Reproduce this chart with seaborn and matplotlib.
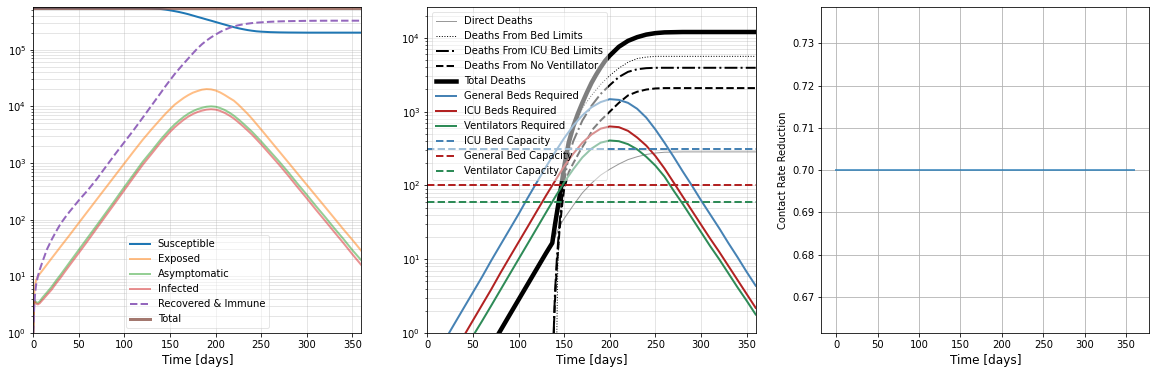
import numpy as np
import matplotlib
matplotlib.use("Agg")
import matplotlib.pyplot as plt
import seaborn as sns

# ---------------- Panel 1: compartments ----------------
t1 = [0, 1, 2, 3, 5, 7, 10, 15, 20, 25, 30, 35, 40, 50, 60, 70, 80, 90, 100, 110, 120, 130,
      140, 145, 150, 155, 160, 165, 170, 175, 180, 185, 190, 195, 200, 205, 210, 215, 220,
      225, 230, 235, 240, 245, 250, 260, 270, 280, 290, 300, 310, 320, 330, 340, 350, 360]
susceptible = [540000, 540000, 540000, 540000, 540000, 540000, 540000, 540000, 540000, 540000,
               540000, 540000, 540000, 540000, 540000, 540000, 540000, 540000, 540000, 539500,
               538000, 533000,
               522000, 510000, 495000, 479000, 462000, 443000, 423000, 401000, 380000, 361000,
               342000, 325000, 308000, 292000, 277000, 263000, 250000, 239000, 230000, 222000,
               216000, 211000, 208000, 204000, 202000, 201000, 200500, 200000, 200000, 200000,
               200000, 200000, 200000, 200000]
exposed = [1.0, 5.0, 7.0, 8.5, 10.0, 11.0, 12.7, 16.2, 20.7, 26.3, 33.5, 42.5, 54, 88, 143, 232,
           376, 610, 990, 1600, 2570, 3980,
           6030, 7400, 8900, 10700, 12300, 14100, 15800, 17400, 18600, 19700, 20200, 19950,
           19050, 17600, 15850, 14100, 12600, 10700, 8900, 7400, 6030, 4840, 3890,
           2480, 1585, 1012, 646, 412, 263, 168, 107, 68, 44, 28]
asymptomatic = [1.0, 3.8, 3.7, 3.5, 3.4, 3.6, 4.2, 5.2, 6.5, 8.4, 10.7, 13.8, 17.8, 29.5, 49, 81,
                135, 225, 380, 630, 1050, 1650,
                2630, 3240, 3980, 4790, 5620, 6530, 7410, 8220, 8910, 9440, 9840, 10000, 9840,
                9330, 8610, 7760, 6840, 5890, 5010, 4220, 3550, 2920, 2400,
                1585, 1047, 676, 427, 275, 174, 112, 71, 46, 29, 19]
infected = [1.0, 3.6, 3.5, 3.3, 3.2, 3.35, 3.8, 4.7, 5.8, 7.5, 9.5, 12.3, 15.8, 26, 43, 72, 120,
            200, 335, 560, 930, 1470,
            2340, 2880, 3540, 4260, 5000, 5810, 6600, 7320, 7930, 8400, 8760, 8900, 8760, 8300,
            7660, 6900, 6090, 5240, 4460, 3760, 3160, 2600, 2130,
            1400, 920, 590, 372, 238, 150, 96, 61, 39, 24.5, 15.7]
recovered = [1.0, 3.0, 5.0, 7.0, 10.0, 13, 18, 30, 44, 62, 85, 110, 140, 220, 335, 530, 880,
             1450, 2350, 3800, 6300, 10500,
             17500, 22700, 29000, 37000, 46000, 57000, 70000, 86000, 105000, 125000, 145000,
             165000, 185000, 206000, 225000, 242000, 258000, 270000, 280000, 288000, 295000,
             300000, 304000, 311000, 316000, 319000, 321000, 323000, 324000, 324500, 325000,
             325000, 325000, 325000]
t_total = [0, 180, 360]
total = [540000, 540000, 540000]

# ---------------- Panel 2: deaths and hospital load ----------------
t_gen = [20, 30, 40, 50, 60, 70, 80, 90, 100, 110, 120, 130, 140, 150, 160, 170, 180, 190,
         200, 210, 220, 230, 240, 250, 260, 270, 280, 290, 300, 310, 320, 330, 340, 350, 360]
general_beds = [0.83, 1.35, 2.19, 3.55, 5.75, 9.55, 15.5, 25.1, 40.7, 67.6, 110, 178, 282, 437,
                646, 891, 1148, 1349, 1479, 1445, 1318, 1096, 832, 575, 380, 245, 155, 100,
                63.1, 40.7, 26.3, 16.6, 10.7, 6.76, 4.37]
t_icu = [40, 50, 60, 70, 80, 90, 100, 110, 120, 130, 140, 150, 160, 170, 180, 190, 200, 210,
         220, 230, 240, 250, 260, 270, 280, 290, 300, 310, 320, 330, 340, 350, 360]
icu_beds = [0.91, 1.48, 2.40, 3.89, 6.46, 10.5, 17.0, 27.5, 44.7, 72.4, 115, 182, 269, 380, 490,
            589, 631, 617, 550, 447, 347, 251, 170, 110, 70.8, 45.7, 29.5, 19.1, 12.6, 8.13,
            5.25, 3.39, 2.19]
t_vent = [50, 60, 70, 80, 90, 100, 110, 120, 130, 140, 150, 160, 170, 180, 190, 200, 210, 220,
          230, 240, 250, 260, 270, 280, 290, 300, 310, 320, 330, 340, 350, 360]
ventilators = [0.91, 1.45, 2.34, 3.80, 6.17, 10.0, 16.2, 26.3, 42.7, 69.2, 110, 166, 240, 316,
               380, 407, 398, 363, 309, 245, 186, 132, 85.1, 56.2, 36.3, 23.4, 15.1, 10.0, 6.46,
               4.17, 2.75, 1.78]

t_dead = [70, 80, 90, 100, 110, 120, 130, 137, 140, 145, 148, 150, 155, 160, 165, 170, 175,
          180, 185, 190, 195, 200, 210, 220, 230, 240, 250, 260, 280, 300, 330, 360]
total_deaths = [0.66, 1.07, 1.74, 2.82, 4.57, 7.41, 12.0, 16.6, 29.5, 70.8, 120, 178, 380, 631,
                933, 1318, 1820, 2455, 3162, 3981, 4898, 5754, 7586, 9120, 10230, 11090, 11610,
                11885, 12020, 12020, 12020, 12020]
t_direct = [70, 80, 90, 100, 110, 120, 130, 137, 140, 145, 150, 160, 170, 180, 190, 200, 210,
            220, 230, 240, 250, 260, 280, 360]
direct_deaths = [0.66, 1.07, 1.74, 2.82, 4.57, 7.41, 12.0, 16.6, 20.0, 28.2, 35.5, 53.7, 79.4,
                 107, 138, 166, 195, 224, 245, 263, 275, 282, 285, 285]
t_bed = [141, 142, 143, 145, 148, 150, 155, 160, 170, 180, 190, 200, 210, 220, 230, 240, 250,
         260, 360]
bed_deaths = [0.32, 1.0, 7.9, 28.2, 79.4, 126, 316, 562, 1122, 1660, 2344, 3090, 3890, 4677,
              5248, 5495, 5623, 5623, 5623]
t_icud = [138, 139, 140, 142, 145, 148, 150, 155, 160, 170, 180, 190, 200, 210, 220, 230, 240,
          250, 260, 360]
icu_deaths = [0.5, 1.58, 3.55, 10.0, 31.6, 70.8, 112, 251, 398, 759, 1202, 1738, 2291, 2951,
              3467, 3758, 3890, 3936, 3936, 3936]
t_ventd = [138, 139, 140, 142, 145, 148, 150, 155, 160, 168, 175, 182, 190, 200, 210, 220, 230,
           240, 250, 260, 360]
vent_deaths = [0.5, 1.41, 2.82, 7.94, 25.1, 56.2, 89.1, 151, 200, 302, 417, 589, 759, 1000,
               1318, 1660, 1862, 1995, 2065, 2089, 2089]

t_cap = [0, 360]
icu_capacity = [310, 310]
general_capacity = [100, 100]
vent_capacity = [60, 60]

# ---------------- Panel 3: contact rate ----------------
t3 = [0, 360]
contact_rate = [0.70, 0.70]

xticks = [0, 50, 100, 150, 200, 250, 300, 350]

# ---------------- Figure ----------------
W, H = 1156, 374
fig = plt.figure(figsize=(W / 72, H / 72), dpi=72)
fig.patch.set_facecolor("white")


def box(l, r, t, b):
    return [l / W, 1 - b / H, (r - l) / W, (b - t) / H]


ax1 = fig.add_axes(box(33.3, 361.5, 7.3, 333.0))
ax2 = fig.add_axes(box(427.3, 755.7, 7.3, 333.0))
ax3 = fig.add_axes(box(821.3, 1149.3, 7.3, 333.0))

# Panel 1
sns.lineplot(x=t1, y=susceptible, ax=ax1, color="tab:blue", lw=2, label="Susceptible")
sns.lineplot(x=t1, y=exposed, ax=ax1, color="tab:orange", lw=2, alpha=0.5, label="Exposed")
sns.lineplot(x=t1, y=asymptomatic, ax=ax1, color="tab:green", lw=2, alpha=0.5, label="Asymptomatic")
sns.lineplot(x=t1, y=infected, ax=ax1, color="tab:red", lw=2, alpha=0.5, label="Infected")
sns.lineplot(x=t1, y=recovered, ax=ax1, color="tab:purple", lw=2, linestyle="--",
             label="Recovered & Immune")
sns.lineplot(x=t_total, y=total, ax=ax1, color="tab:brown", lw=3, alpha=0.8, label="Total")
ax1.set_yscale("log")
ax1.set_xlim(0, 360)
ax1.set_ylim(1, 5.6e5)
ax1.set_xticks(xticks)
ax1.grid(True, which="both", alpha=0.4)
ax1.set_xlabel("Time [days]", fontsize=12)
ax1.set_ylabel("")
ax1.legend(loc="lower center", framealpha=0.5)

# Panel 2
sns.lineplot(x=t_direct, y=direct_deaths, ax=ax2, color="gray", lw=1, alpha=0.8, label="Direct Deaths")
sns.lineplot(x=t_bed, y=bed_deaths, ax=ax2, color="black", lw=1, linestyle=":",
             label="Deaths From Bed Limits")
sns.lineplot(x=t_icud, y=icu_deaths, ax=ax2, color="black", lw=2, linestyle="-.",
             label="Deaths From ICU Bed Limits")
sns.lineplot(x=t_ventd, y=vent_deaths, ax=ax2, color="black", lw=2, linestyle="--",
             label="Deaths From No Ventillator")
sns.lineplot(x=t_dead, y=total_deaths, ax=ax2, color="black", lw=4.5, label="Total Deaths")
sns.lineplot(x=t_gen, y=general_beds, ax=ax2, color="steelblue", lw=2, label="General Beds Required")
sns.lineplot(x=t_icu, y=icu_beds, ax=ax2, color="firebrick", lw=2, label="ICU Beds Required")
sns.lineplot(x=t_vent, y=ventilators, ax=ax2, color="seagreen", lw=2, label="Ventilators Required")
sns.lineplot(x=t_cap, y=icu_capacity, ax=ax2, color="steelblue", lw=2, linestyle="--",
             label="ICU Bed Capacity")
sns.lineplot(x=t_cap, y=general_capacity, ax=ax2, color="firebrick", lw=2, linestyle="--",
             label="General Bed Capacity")
sns.lineplot(x=t_cap, y=vent_capacity, ax=ax2, color="seagreen", lw=2, linestyle="--",
             label="Ventilator Capacity")
ax2.set_yscale("log")
ax2.set_xlim(0, 360)
ax2.set_ylim(1, 2.6e4)
ax2.set_xticks(xticks)
ax2.grid(True, which="both", alpha=0.4)
ax2.set_xlabel("Time [days]", fontsize=12)
ax2.set_ylabel("")
ax2.legend(loc="upper left", framealpha=0.5)

# Panel 3
sns.lineplot(x=t3, y=contact_rate, ax=ax3, color="tab:blue", lw=2, alpha=0.7)
ax3.set_xlim(-18, 378)
ax3.set_ylim(0.6615, 0.7385)
ax3.set_xticks(xticks)
ax3.set_yticks([0.67, 0.68, 0.69, 0.70, 0.71, 0.72, 0.73])
ax3.grid(True)
ax3.set_xlabel("Time [days]", fontsize=12)
ax3.set_ylabel("Contact Rate Reduction")
if ax3.get_legend() is not None:
    ax3.get_legend().remove()

fig.savefig("out.png", dpi=72)
